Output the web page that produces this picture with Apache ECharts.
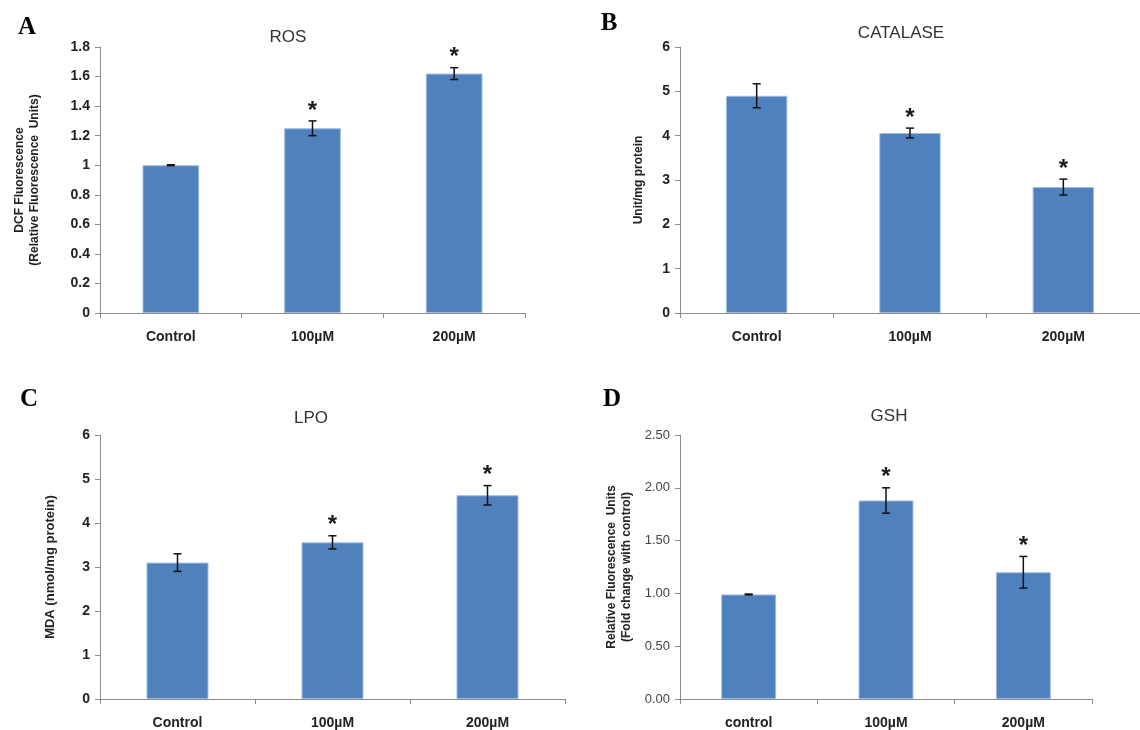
<!DOCTYPE html>
<html>
<head>
<meta charset="utf-8">
<script src="https://cdn.jsdelivr.net/npm/echarts@6/dist/echarts.min.js"></script>
<style>html,body{margin:0;padding:0;background:#fff}#c{width:1140px;height:730px}</style>
</head>
<body>
<div id="c"></div>
<script>
// ---- data ----
const categoriesABC = ['Control', '100µM', '200µM'];
const categoriesD = ['control', '100µM', '200µM'];

const rosValues = [1.0, 1.25, 1.62];
const rosErrors = [0.003, 0.05, 0.04];
const rosSig = [0, 1, 1];

const catalaseValues = [4.9, 4.06, 2.84];
const catalaseErrors = [0.27, 0.11, 0.18];
const catalaseSig = [0, 1, 1];

const lpoValues = [3.1, 3.56, 4.63];
const lpoErrors = [0.2, 0.15, 0.22];
const lpoSig = [0, 1, 1];

const gshValues = [0.99, 1.88, 1.2];
const gshErrors = [0.004, 0.12, 0.15];
const gshSig = [0, 1, 1];

const rosTicks = {min: 0, max: 1.8, interval: 0.2};
const catalaseTicks = {min: 0, max: 6, interval: 1};
const lpoTicks = {min: 0, max: 6, interval: 1};
const gshTicks = {min: 0, max: 2.5, interval: 0.5};

// ---- styles ----
const FONT = '"Liberation Sans", Arial, sans-serif';
const AXIS_COLOR = '#8c8c8c';
const BAR_COLOR = '#4F81BD';

const chart = echarts.init(document.getElementById('c'));

const panels = [
  {grid: {left: 100, top: 47, width: 425, height: 266}, cats: categoriesABC, vals: rosValues, errs: rosErrors, sig: rosSig, ticks: rosTicks,
   name: 'DCF Fluorescence\n(Relative Fluorescence  Units)', nameGap: 58, nameSize: 12, boldTicks: true, fmt: null},
  {grid: {left: 680, top: 47, width: 465, height: 266}, cats: categoriesABC, vals: catalaseValues, errs: catalaseErrors, sig: catalaseSig, ticks: catalaseTicks,
   name: 'Unit/mg protein', nameGap: 34, nameSize: 12, boldTicks: true, fmt: null},
  {grid: {left: 100, top: 435, width: 465, height: 267}, cats: categoriesABC, vals: lpoValues, errs: lpoErrors, sig: lpoSig, ticks: lpoTicks,
   name: 'MDA (nmol/mg protein)', nameGap: 42, nameSize: 13, boldTicks: true, fmt: null},
  {grid: {left: 680, top: 435, width: 412, height: 267}, cats: categoriesD, vals: gshValues, errs: gshErrors, sig: gshSig, ticks: gshTicks,
   name: 'Relative Fluorescence  Units\n(Fold change with control)', nameGap: 46, nameSize: 12, boldTicks: false, fmt: v => v.toFixed(2)}
];

const grid = [], xAxis = [], yAxis = [], series = [];
panels.forEach((p, i) => {
  grid.push(Object.assign({containLabel: false}, p.grid));
  xAxis.push({
    type: 'category', gridIndex: i, data: p.cats,
    axisLine: {lineStyle: {color: AXIS_COLOR, width: 1}},
    axisTick: {show: true, length: 5, lineStyle: {color: AXIS_COLOR}},
    axisLabel: {color: '#222', fontFamily: FONT, fontSize: 14, fontWeight: 'bold', margin: 17}
  });
  yAxis.push({
    type: 'value', gridIndex: i, min: p.ticks.min, max: p.ticks.max, interval: p.ticks.interval,
    name: p.name, nameLocation: 'middle', nameGap: p.nameGap,
    nameTextStyle: {color: '#222', fontFamily: FONT, fontSize: p.nameSize, fontWeight: 'bold', lineHeight: p.nameSize + 3},
    axisLine: {show: true, lineStyle: {color: AXIS_COLOR, width: 1}},
    axisTick: {show: true, length: 5, lineStyle: {color: AXIS_COLOR}},
    splitLine: {show: false},
    axisLabel: {color: p.boldTicks ? '#222' : '#444', fontFamily: FONT, fontSize: p.boldTicks ? 14 : 13,
      fontWeight: p.boldTicks ? 'bold' : 'normal', margin: 10, formatter: p.fmt || undefined}
  });
  series.push({
    type: 'bar', xAxisIndex: i, yAxisIndex: i, data: p.vals, barCategoryGap: '60%',
    itemStyle: {color: BAR_COLOR, borderColor: '#9fbbe0', borderWidth: 1},
    silent: true, animation: false
  });
  series.push({
    type: 'custom', xAxisIndex: i, yAxisIndex: i, silent: true, animation: false, z: 5,
    data: p.vals.map((v, k) => [k, v, p.errs[k], p.sig[k]]),
    renderItem: function (params, api) {
      const x = api.value(0), v = api.value(1), e = api.value(2), s = api.value(3);
      const top = api.coord([x, v + e]);
      const bot = api.coord([x, v - e]);
      const h = 4;
      const st = {stroke: '#111', lineWidth: 1.5};
      const children = [
        {type: 'line', shape: {x1: top[0], y1: top[1], x2: bot[0], y2: bot[1]}, style: st},
        {type: 'line', shape: {x1: top[0] - h, y1: top[1], x2: top[0] + h, y2: top[1]}, style: st},
        {type: 'line', shape: {x1: bot[0] - h, y1: bot[1], x2: bot[0] + h, y2: bot[1]}, style: st}
      ];
      if (s) {
        children.push({type: 'text', x: top[0], y: top[1] + 2,
          style: {text: '*', fill: '#1a1a1a', font: 'bold 24px ' + FONT, align: 'center', verticalAlign: 'bottom'}});
      }
      return {type: 'group', children: children};
    }
  });
});

const txt = (text, x, y, font, color) => ({type: 'text', x: x, y: y,
  style: {text: text, font: font, fill: color || '#222', align: 'center', verticalAlign: 'middle'}});

const TITLE_FONT = '17px ' + FONT;
const LETTER_FONT = 'bold 25px "Liberation Serif", "Times New Roman", serif';

chart.setOption({
  animation: false,
  grid: grid, xAxis: xAxis, yAxis: yAxis, series: series,
  graphic: [
    txt('A', 27, 28, LETTER_FONT, '#000'),
    txt('B', 609, 24, LETTER_FONT, '#000'),
    txt('C', 29, 400, LETTER_FONT, '#000'),
    txt('D', 612, 400, LETTER_FONT, '#000'),
    txt('ROS', 288, 37, TITLE_FONT, '#333'),
    txt('CATALASE', 901, 33, TITLE_FONT, '#333'),
    txt('LPO', 311, 418, TITLE_FONT, '#333'),
    txt('GSH', 889, 416, TITLE_FONT, '#333')
  ]
});
</script>
</body>
</html>
